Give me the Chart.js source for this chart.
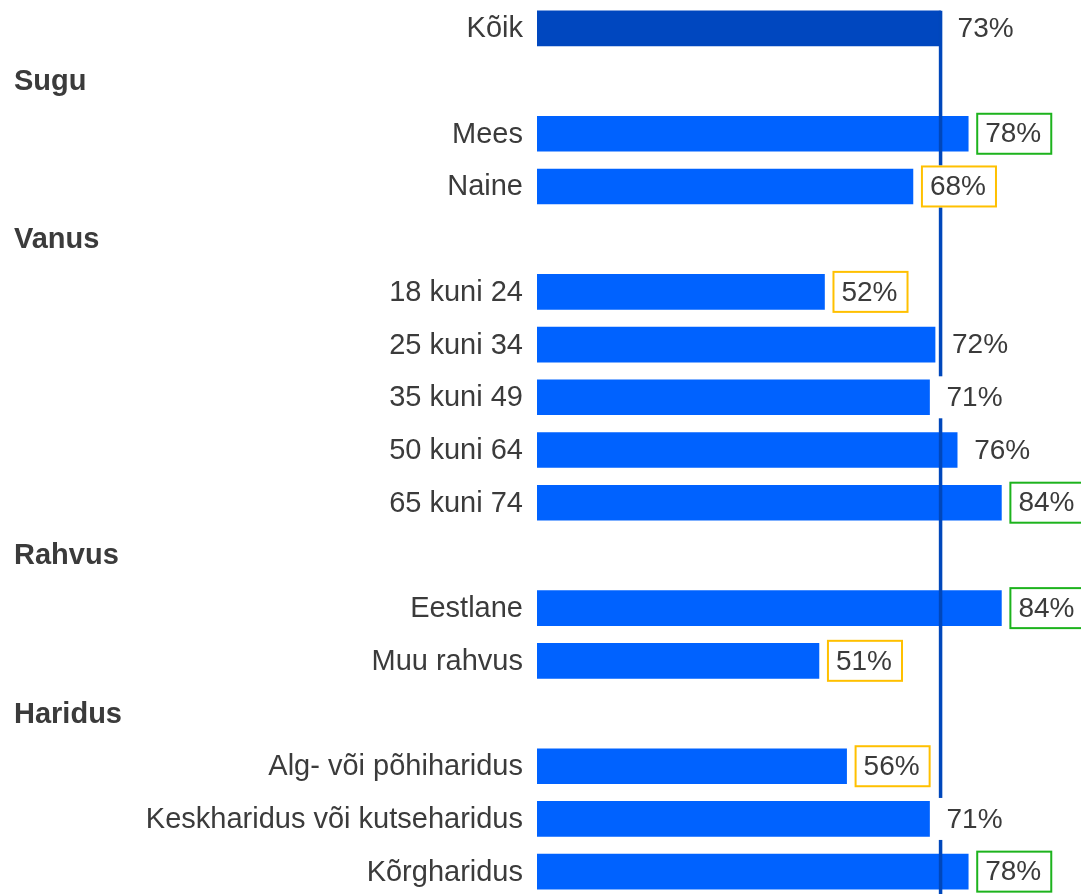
<!DOCTYPE html>
<html>
<head>
<meta charset="utf-8">
<script src="https://cdn.jsdelivr.net/npm/chart.js@4"></script>
<style>
  html, body { margin: 0; padding: 0; background: #ffffff; overflow: hidden; }
  #wrap { width: 1081px; height: 894px; position: relative; overflow: hidden; }
</style>
</head>
<body>
<div id="wrap"><canvas id="c" width="1081" height="898"></canvas></div>
<script>
const categories = ['Kõik', 'Sugu', 'Mees', 'Naine', 'Vanus', '18 kuni 24', '25 kuni 34', '35 kuni 49', '50 kuni 64', '65 kuni 74', 'Rahvus', 'Eestlane', 'Muu rahvus', 'Haridus', 'Alg- või põhiharidus', 'Keskharidus või kutseharidus', 'Kõrgharidus'];
const values = [73, null, 78, 68, null, 52, 72, 71, 76, 84, null, 84, 51, null, 56, 71, 78];
const headerRows = ['Sugu', 'Vanus', 'Rahvus', 'Haridus'];
const significance = ['', '', 'higher', 'lower', '', 'lower', '', '', '', 'higher', '', 'higher', 'lower', '', 'lower', '', 'higher'];
const average = 73;

const FONT = '"Liberation Sans", Arial, sans-serif';
const TEXT = '#3b3b3b';
const BAR = '#0062ff';
const BAR_TOTAL = '#0047bf';
const LINE = '#0047bb';
const HIGH = '#1db31d';
const LOW = '#ffc000';

const overlay = {
  id: 'overlay',
  afterDatasetsDraw(chart) {
    const ctx = chart.ctx;
    const x = chart.scales.x, y = chart.scales.y;
    const meta = chart.getDatasetMeta(0);
    ctx.save();
    // average line
    const ax = x.getPixelForValue(average);
    const firstBar = meta.data[0];
    ctx.strokeStyle = LINE;
    ctx.lineWidth = 3.5;
    ctx.beginPath();
    ctx.moveTo(ax, firstBar.y - firstBar.height / 2);
    ctx.lineTo(ax, chart.chartArea.bottom);
    ctx.stroke();
    // category labels
    ctx.textBaseline = 'middle';
    categories.forEach((c, i) => {
      const cy = y.getPixelForValue(i);
      if (headerRows.includes(c)) {
        ctx.font = 'bold 29px ' + FONT;
        ctx.textAlign = 'left';
        ctx.fillStyle = TEXT;
        ctx.fillText(c, 14, cy + 1);
      } else {
        ctx.font = '29px ' + FONT;
        ctx.textAlign = 'right';
        ctx.fillStyle = TEXT;
        ctx.fillText(c, chart.chartArea.left - 14, cy + 1);
      }
    });
    // value labels
    ctx.font = '28px ' + FONT;
    ctx.textAlign = 'left';
    values.forEach((v, i) => {
      if (v === null) return;
      const bar = meta.data[i];
      const txt = v + '%';
      const tw = ctx.measureText(txt).width;
      const bx = bar.x + 8, bh = 42, bw = tw + 20;
      const by = bar.y - bh / 2;
      ctx.fillStyle = '#ffffff';
      ctx.fillRect(bx, by, bw, bh);
      const s = significance[i];
      if (s) {
        ctx.strokeStyle = s === 'higher' ? HIGH : LOW;
        ctx.lineWidth = 2;
        ctx.strokeRect(bx + 1, by + 1, bw - 2, bh - 2);
      }
      ctx.fillStyle = TEXT;
      ctx.fillText(txt, bx + 9, bar.y + 1);
    });
    ctx.restore();
  }
};

new Chart(document.getElementById('c'), {
  type: 'bar',
  data: {
    labels: categories,
    datasets: [{
      data: values,
      backgroundColor: categories.map((c, i) => i === 0 ? BAR_TOTAL : BAR),
      barThickness: 35,
      borderWidth: 0
    }]
  },
  options: {
    indexAxis: 'y',
    responsive: false,
    animation: false,
    devicePixelRatio: 1,
    layout: { padding: { left: 537, right: 0, top: 2, bottom: 0 } },
    plugins: { legend: { display: false }, tooltip: { enabled: false } },
    scales: {
      x: { display: false, min: 0, max: 98.4 },
      y: { display: false, grid: { display: false } }
    }
  },
  plugins: [overlay]
});
</script>
</body>
</html>
